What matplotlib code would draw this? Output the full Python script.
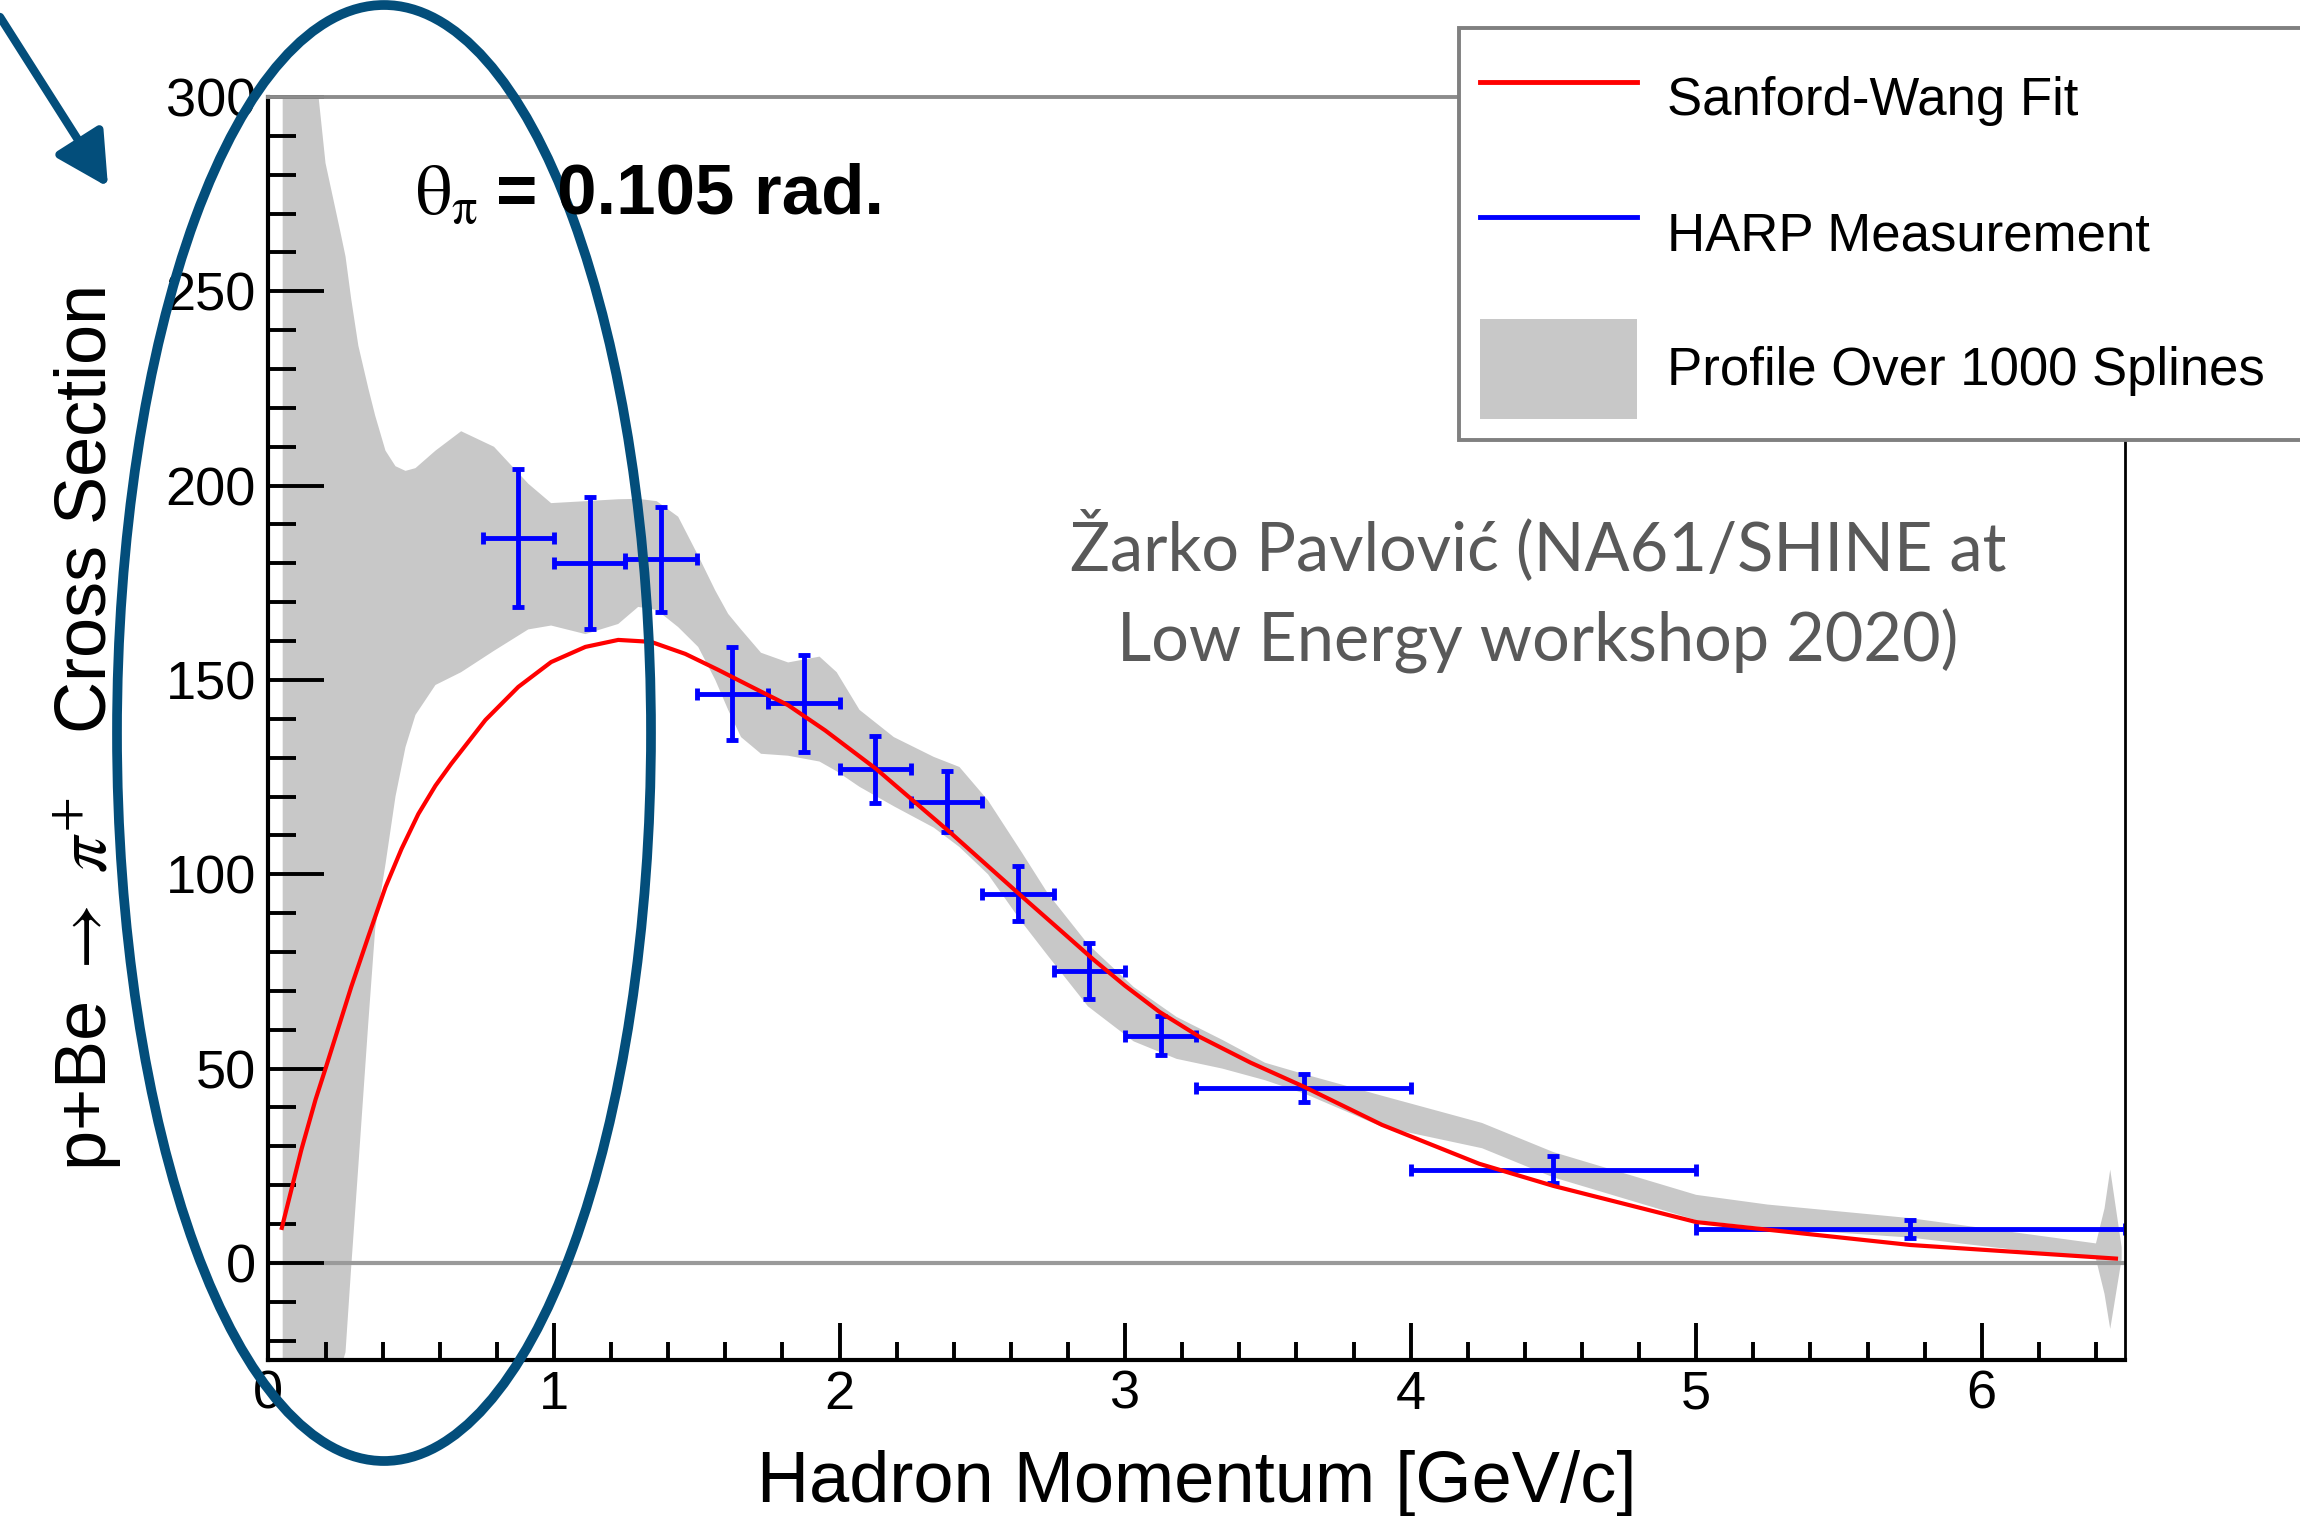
import matplotlib
matplotlib.use('Agg')
import matplotlib.pyplot as plt
from matplotlib.lines import Line2D
from matplotlib.patches import Patch, Ellipse, FancyArrowPatch, ArrowStyle
from matplotlib.ticker import MultipleLocator

plt.rcParams['font.family'] = 'Liberation Sans'
plt.rcParams['mathtext.fontset'] = 'stix'

# HARP measurement: momentum bins and cross section
bin_lo = [0.75, 1.0, 1.25, 1.5, 1.75, 2.0, 2.25, 2.5, 2.75, 3.0, 3.25, 4.0, 5.0]
bin_hi = [1.0, 1.25, 1.5, 1.75, 2.0, 2.25, 2.5, 2.75, 3.0, 3.25, 4.0, 5.0, 6.5]
harp_y = [186.5, 180, 181, 146.5, 144, 127, 118.7, 95, 75, 58.5, 45, 24, 8.6]
harp_err = [17.7, 17, 13.5, 12, 12.5, 8.7, 7.8, 7, 7.2, 5, 3.5, 3.4, 2.3]

# Sanford-Wang fit
fit_p = [0.047, 0.115, 0.165, 0.2, 0.29, 0.35, 0.41, 0.466, 0.525, 0.585, 0.64,
         0.76, 0.875, 0.99, 1.11, 1.225, 1.34, 1.46, 1.575, 1.69, 1.82, 1.95,
         2.13, 2.39, 2.64, 2.77, 2.89, 3.0, 3.12, 3.26, 3.44, 3.63, 3.9, 4.24,
         4.5, 5.0, 5.75, 6.47]
fit_xs = [9, 29, 42, 50, 71, 84, 96.7, 106.5, 115.5, 122.8, 128.4,
          139.7, 148.2, 154.6, 158.5, 160.3, 159.8, 156.7, 152.6, 148.3, 143.5, 137,
          127, 110.6, 94.2, 85.8, 78, 71.3, 64.6, 58.2, 51.5, 45.2, 35.5, 25.5,
          19.8, 10.5, 4.6, 1.1]

# profile over 1000 splines (band edges)
band_p = [0.05, 0.10, 0.15, 0.20, 0.25, 0.27, 0.29, 0.315, 0.35, 0.374,
          0.41, 0.445, 0.48, 0.515, 0.585, 0.675, 0.79, 0.91, 0.99, 1.11,
          1.225, 1.295, 1.36, 1.435, 1.505, 1.565, 1.61, 1.655, 1.725, 1.82,
          1.93, 1.99, 2.07, 2.19, 2.33, 2.42, 2.52, 2.635, 2.73, 2.87,
          3.03, 3.18, 3.34, 3.49, 3.63, 3.90, 4.25, 4.50, 5.00, 5.25,
          5.75, 6.10, 6.35, 6.40, 6.43, 6.45, 6.47, 6.49]
band_hi = [420, 370, 318, 283, 266, 259, 248, 236, 225, 218,
           209, 205, 203.8, 204.5, 209, 214, 210, 200.5, 195.5, 196,
           196.5, 196.6, 196, 192, 182, 173, 167, 163, 157, 154.5,
           156, 152, 142.3, 135.3, 130.2, 127.6, 119, 106, 95, 82,
           71, 63.3, 57.4, 51.5, 48.5, 43, 36, 28.5, 17.5, 15,
           11.5, 8, 5.5, 5, 14, 24, 14, 4]
band_lo = [-120, -90, -60, -40, -28, -23, -1, 25, 62, 86,
           102.6, 120, 132.7, 141, 148.7, 152, 157.5, 163, 164, 161.8,
           164.4, 168.8, 168, 163.6, 158.5, 150, 142.3, 135.3, 131, 130.5,
           129, 126.5, 122.5, 117.5, 112, 107, 100, 88, 79, 66,
           57, 52.5, 50, 47, 43.5, 35, 29.5, 22, 11, 9,
           6.5, 3.5, 1.5, 1, -8, -17, -8, 1]

fig = plt.figure(figsize=(23, 15.16), dpi=100)
ax = fig.add_axes([0.1167, 0.1029, 0.8070, 0.8331])

ax.fill_between(band_p, band_lo, band_hi, color='#c8c8c8', lw=0, zorder=1)
ax.axhline(0, color='#9a9a9a', lw=3, zorder=1.5)

xc = [(a + b) / 2 for a, b in zip(bin_lo, bin_hi)]
xe = [(b - a) / 2 for a, b in zip(bin_lo, bin_hi)]
ax.errorbar(xc, harp_y, xerr=xe, yerr=harp_err, fmt='none', ecolor='#0000ff',
            elinewidth=3.5, capsize=4.5, capthick=3.5, zorder=2)
ax.plot(fit_p, fit_xs, color='#ff0000', lw=3, zorder=3, solid_joinstyle='round')

ax.set_xlim(0, 6.5)
ax.set_ylim(-25, 300)
ax.xaxis.set_major_locator(MultipleLocator(1))
ax.xaxis.set_minor_locator(MultipleLocator(0.2))
ax.yaxis.set_major_locator(MultipleLocator(50))
ax.yaxis.set_minor_locator(MultipleLocator(10))
ax.tick_params(which='both', direction='in', top=False, right=False, width=2.8, labelsize=39)
ax.tick_params(axis='x', which='major', length=27, pad=7)
ax.tick_params(axis='x', which='minor', length=13)
ax.tick_params(axis='y', which='major', length=40, pad=9)
ax.tick_params(axis='y', which='minor', length=20)

for s in ['left', 'bottom']:
    ax.spines[s].set_linewidth(3)
ax.spines['right'].set_linewidth(2)
ax.spines['top'].set_linewidth(2.8)
ax.spines['top'].set_color('#8c8c8c')

ax.set_xlabel('Hadron Momentum [GeV/c]', fontsize=52)
ax.xaxis.set_label_coords(0.5, -0.071)
ax.set_ylabel(r'p+Be $\rightarrow$ $\pi^{+}$   Cross Section', fontsize=52)
ax.yaxis.set_label_coords(-0.078, 0.5)

fig.text(415 / 2300, 1 - 214 / 1516, r'$\mathrm{\theta}_{\mathrm{\pi}}$', fontsize=52,
         va='baseline', ha='left')
fig.text(496 / 2300, 1 - 214 / 1516, '= 0.105 rad.', fontsize=51, fontweight='bold',
         va='baseline', ha='left')

fig.text(1538 / 2300, 1 - 592 / 1516, 'Žarko Pavlović (NA61/SHINE at\nLow Energy workshop 2020)',
         ha='center', va='center', fontsize=48, color='#595959', family='Lato',
         linespacing=1.5)

handles = [Line2D([], [], color='#ff0000', lw=3.5),
           Line2D([], [], color='#0000ff', lw=3.5),
           Patch(facecolor='#c8c8c8', edgecolor='none')]
labels = ['Sanford-Wang Fit', 'HARP Measurement', 'Profile Over 1000 Splines']
# legend box runs past the right edge of the picture, as in the original
leg = fig.legend(handles, labels, loc='upper left',
                 bbox_to_anchor=(1459 / 2300, 1 - 28 / 1516, 0.38, 0), mode='expand',
                 borderaxespad=0, fontsize=38, handlelength=2.97, handleheight=2.54,
                 handletextpad=0.57, labelspacing=0.66, borderpad=0.4, fancybox=False,
                 framealpha=1, edgecolor='#808080')
leg.get_frame().set_linewidth(2.8)

# highlight ellipse and arrow
fig.add_artist(Ellipse((384 / 2300, 1 - 733 / 1516), 534 / 2300, 1456 / 1516, fill=False,
                       ec='#034e7b', lw=7, transform=fig.transFigure))
fig.add_artist(FancyArrowPatch((0, 1 - 17 / 1516), (108 / 2300, 1 - 187 / 1516),
                               transform=fig.transFigure,
                               arrowstyle=ArrowStyle('-|>', head_length=32, head_width=17),
                               mutation_scale=1, lw=6, color='#034e7b',
                               shrinkA=0, shrinkB=0))

fig.savefig('out.png', dpi=100)
